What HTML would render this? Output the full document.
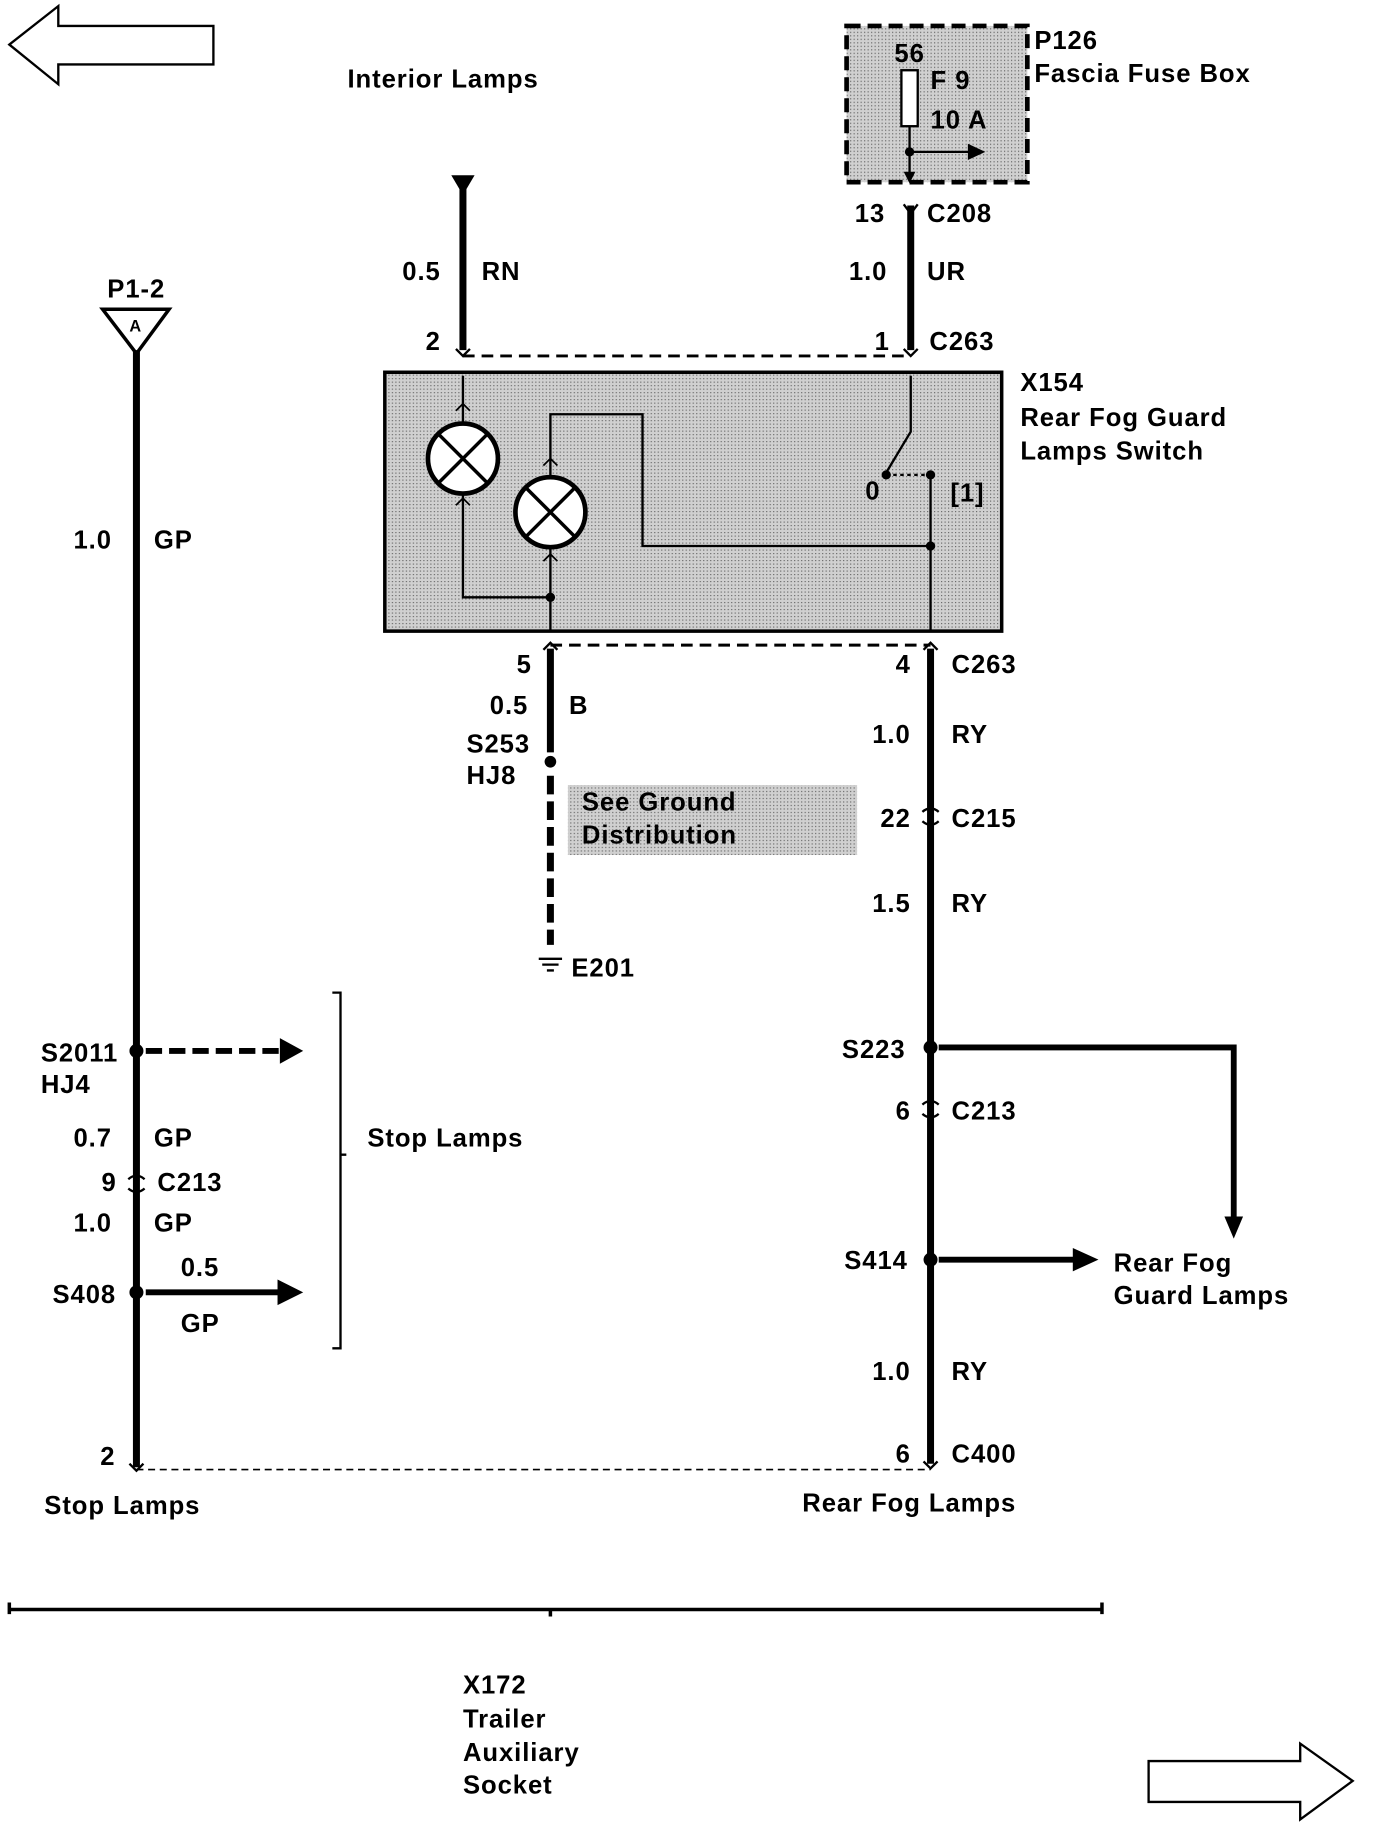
<!DOCTYPE html>
<html><head><meta charset="utf-8"><style>body{margin:0;background:#fff}svg{display:block}text{font-family:"Liberation Sans",sans-serif;font-weight:bold;font-size:22px;letter-spacing:0.8px;fill:#000}</style></head>
<body>
<svg width="1376" height="1822" viewBox="0 0 1180 1562" xmlns="http://www.w3.org/2000/svg">
<defs>
<pattern id="g" width="3" height="3" patternUnits="userSpaceOnUse"><rect width="3" height="3" fill="#d0d0d0"/><rect width="1" height="1" fill="#666"/></pattern>
</defs>
<g fill="none" stroke="#000">
<polygon points="8,38 50,5 50,22 183,22 183,55 50,55 50,72" stroke-width="2"/>
<polygon points="985,1510 1115,1510 1115,1495 1160,1527 1115,1560 1115,1545 985,1545" stroke-width="2"/>
<rect x="726" y="22" width="155" height="134" fill="url(#g)" stroke-width="4" stroke-dasharray="12,6"/>
<rect x="773" y="60" width="14" height="48" stroke-width="2" fill="#fff"/>
<path d="M780 108V155M780 130H835" stroke-width="2"/>
<path d="M781 176V300M397 160V300M117 300V1258M472 556V645M798 556V1255" stroke-width="6"/>
<path d="M472 665V810" stroke-width="6" stroke-dasharray="16,6"/>
<path d="M397 305H781M472 553H798" stroke-width="2.5" stroke-dasharray="10,6"/>
<path d="M117 1260H798" stroke-width="1.5" stroke-dasharray="6,4"/>
<rect x="330" y="319" width="529" height="222" fill="url(#g)" stroke-width="3"/>
<circle cx="397" cy="393" r="30" stroke-width="4" fill="#fff"/>
<circle cx="472" cy="439" r="30" stroke-width="4" fill="#fff"/>
<path d="M376 372L418 414M418 372L376 414M451 418L493 460M493 418L451 460" stroke-width="3"/>
<path d="M397 322V363M397 423V512H472M472 409V355H551V468H798M472 469V541M781 322V370L760 405M798 407V541" stroke-width="2"/>
<path d="M766 407H796" stroke-width="2" stroke-dasharray="3,3"/>
<path d="M391 352L397 346L403 352M391 433L397 427L403 433M466 399L472 393L478 399M466 481L472 475L478 481" stroke-width="1.5"/>
<path d="M805 898H1058V1045M805 1080H925M125 1108H245" stroke-width="5"/>
<path d="M125 901H245" stroke-width="5" stroke-dasharray="14,6"/>
<path d="M285 851H292V1156H285M292 990H297" stroke-width="2"/>
<path d="M8 1380H945M8 1374V1384M945 1374V1384M472 1380V1386" stroke-width="3"/>
<polygon points="88,265 145,265 117,303" stroke-width="3"/>
<path d="M775 175L781 183L787 175M391 299L397 305L403 299M775 299L781 305L787 299M466 557L472 551L478 557M792 557L798 551L804 557M111 1255L117 1261L123 1255M792 1253L798 1259L804 1253" stroke-width="2"/>
<path d="M791 696Q798 690 805 696M791 704Q798 710 805 704M791 947Q798 941 805 947M791 955Q798 961 805 955M110 1011Q117 1005 124 1011M110 1019Q117 1025 124 1019" stroke-width="2"/>
<path d="M462 822H482M465 827H479M469 832H475" stroke-width="2"/>
</g>
<g fill="#000">
<polygon points="775,147 785,147 780,157"/>
<polygon points="830,123 845,130 830,137"/>
<polygon points="387,150 407,150 397,167"/>
<polygon points="1050,1043 1066,1043 1058,1062"/>
<polygon points="920,1070 942,1080 920,1090"/>
<polygon points="240,890 260,901 240,912"/>
<polygon points="238,1097 260,1108 238,1119"/>
<circle cx="780" cy="130" r="4"/><circle cx="760" cy="407" r="4"/><circle cx="798" cy="407" r="4"/><circle cx="798" cy="468" r="4"/><circle cx="472" cy="512" r="4"/><circle cx="472" cy="653" r="5"/><circle cx="798" cy="898" r="6"/><circle cx="798" cy="1080" r="6"/><circle cx="117" cy="901" r="6"/><circle cx="117" cy="1108" r="6"/>
</g>
<rect x="487" y="673" width="248" height="60" fill="url(#g)"/>
<text x="298" y="75">Interior Lamps</text>
<text x="887" y="42">P126</text><text x="887" y="70">Fascia Fuse Box</text>
<text x="767" y="53">56</text><text x="798" y="76">F 9</text><text x="798" y="110">10 A</text>
<text x="733" y="190">13</text><text x="795" y="190">C208</text>
<text x="728" y="240">1.0</text><text x="795" y="240">UR</text>
<text x="750" y="300">1</text><text x="797" y="300">C263</text>
<text x="345" y="240">0.5</text><text x="413" y="240">RN</text><text x="365" y="300">2</text>
<text x="875" y="335">X154</text><text x="875" y="365">Rear Fog Guard</text><text x="875" y="394">Lamps Switch</text>
<text x="742" y="428">0</text><text x="815" y="430">[1]</text>
<text x="443" y="577">5</text><text x="420" y="612">0.5</text><text x="488" y="612">B</text>
<text x="400" y="645">S253</text><text x="400" y="672">HJ8</text>
<text x="499" y="695">See Ground</text><text x="499" y="723">Distribution</text>
<text x="490" y="837">E201</text>
<text x="768" y="577">4</text><text x="816" y="577">C263</text>
<text x="748" y="637">1.0</text><text x="816" y="637">RY</text>
<text x="755" y="709">22</text><text x="816" y="709">C215</text>
<text x="748" y="782">1.5</text><text x="816" y="782">RY</text>
<text x="722" y="907">S223</text>
<text x="768" y="960">6</text><text x="816" y="960">C213</text>
<text x="724" y="1088">S414</text>
<text x="955" y="1090">Rear Fog</text><text x="955" y="1118">Guard Lamps</text>
<text x="748" y="1183">1.0</text><text x="816" y="1183">RY</text>
<text x="768" y="1254">6</text><text x="816" y="1254">C400</text>
<text x="688" y="1296">Rear Fog Lamps</text>
<text x="92" y="255">P1-2</text><text x="111" y="284" style="font-size:14px">A</text>
<text x="63" y="470">1.0</text><text x="132" y="470">GP</text>
<text x="35" y="910">S2011</text><text x="35" y="937">HJ4</text>
<text x="63" y="983">0.7</text><text x="132" y="983">GP</text>
<text x="87" y="1021">9</text><text x="135" y="1021">C213</text>
<text x="63" y="1056">1.0</text><text x="132" y="1056">GP</text>
<text x="45" y="1117">S408</text><text x="155" y="1094">0.5</text><text x="155" y="1142">GP</text>
<text x="86" y="1256">2</text><text x="38" y="1298">Stop Lamps</text>
<text x="315" y="983">Stop Lamps</text>
<text x="397" y="1452">X172</text><text x="397" y="1481">Trailer</text><text x="397" y="1510">Auxiliary</text><text x="397" y="1538">Socket</text>
</svg>
</body></html>
